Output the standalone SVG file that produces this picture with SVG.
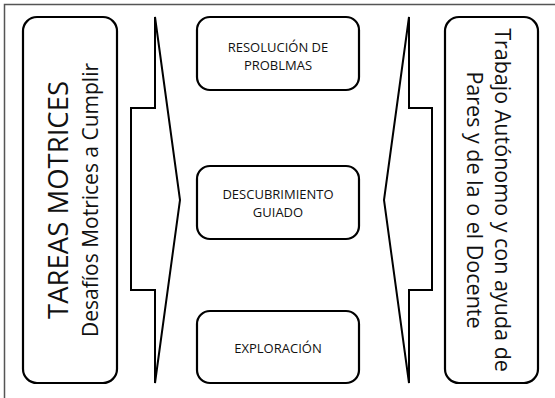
<svg xmlns="http://www.w3.org/2000/svg" width="555" height="398" viewBox="0 0 555 398">
<style>
.box{fill:#fff;stroke:#000;stroke-width:2.2}
.br{fill:#fff;stroke:#000;stroke-width:2;stroke-linejoin:miter}
.t{font-family:"Open Sans","Noto Sans",sans-serif;fill:#111;text-anchor:middle}
.s{font-size:13px}
</style>
<rect x="0" y="0" width="555" height="398" fill="#fff"/>
<rect x="4.5" y="4.5" width="560" height="410" fill="none" stroke="#555" stroke-width="1.5"/>
<g id="tareas">
<rect class="box" x="23" y="17" width="94" height="366" rx="14"/>
<text class="t" transform="translate(68,200) rotate(-90)" font-size="27.5">TAREAS MOTRICES</text>
<text class="t" transform="translate(98,200) rotate(-90)" font-size="21">Desafíos Motrices a Cumplir</text>
</g>
<g id="connectors">
<polygon class="br" points="155,17 180,200 155,383 155,290 131,290 131,108 155,108"/>
<polygon class="br" points="409,17 384,200 409,383 409,290 432,290 432,108 409,108"/>
</g>
<g id="resolucion">
<rect class="box" x="197" y="17" width="162" height="73" rx="13"/>
<text class="t s" x="278" y="52">RESOLUCIÓN DE</text>
<text class="t s" x="278" y="70">PROBLMAS</text>
</g>
<g id="descubrimiento">
<rect class="box" x="197" y="166" width="162" height="73" rx="13"/>
<text class="t s" x="278" y="199">DESCUBRIMIENTO</text>
<text class="t s" x="278" y="217">GUIADO</text>
</g>
<g id="exploracion">
<rect class="box" x="197" y="311" width="162" height="72" rx="13"/>
<text class="t s" x="278" y="353">EXPLORACIÓN</text>
</g>
<g id="trabajo">
<rect class="box" x="445" y="17" width="93" height="366" rx="14"/>
<text class="t" transform="translate(495,200) rotate(90)" font-size="21.5">Trabajo Autónomo y con ayuda de</text>
<text class="t" transform="translate(467,200) rotate(90)" font-size="21.5">Pares y de la o el Docente</text>
</g>
</svg>
